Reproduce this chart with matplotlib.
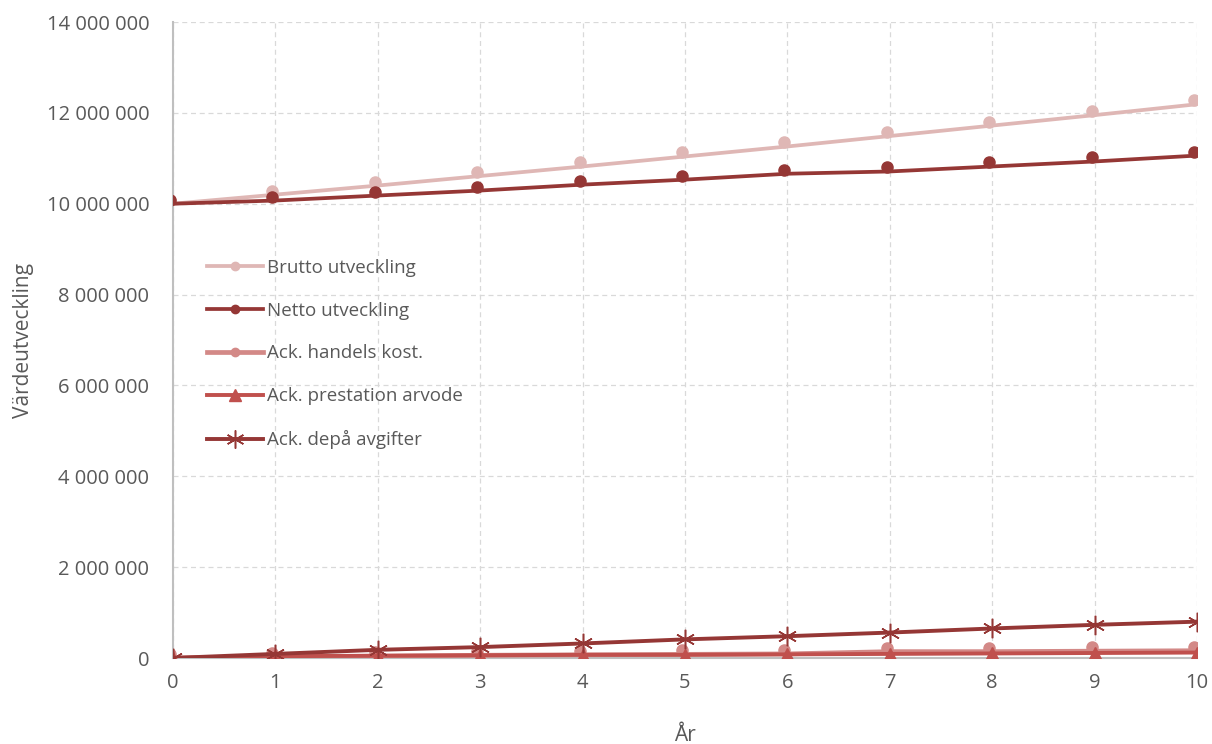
import numpy as np
import matplotlib.pyplot as plt
from matplotlib.lines import Line2D
from matplotlib.ticker import FuncFormatter, MultipleLocator
from matplotlib.transforms import offset_copy

plt.rcParams['font.family'] = ['Open Sans', 'DejaVu Sans']

years = np.arange(0, 11)

# values in SEK
brutto = [10.00e6, 10.20e6, 10.40e6, 10.61e6, 10.82e6, 11.04e6, 11.26e6, 11.49e6, 11.72e6, 11.95e6, 12.19e6]
netto = [10.00e6, 10.07e6, 10.18e6, 10.29e6, 10.42e6, 10.53e6, 10.66e6, 10.71e6, 10.82e6, 10.93e6, 11.06e6]
handels = [0, 0.02e6, 0.04e6, 0.06e6, 0.07e6, 0.08e6, 0.09e6, 0.14e6, 0.14e6, 0.15e6, 0.16e6]
prestation = [0, 0.04e6, 0.05e6, 0.06e6, 0.07e6, 0.07e6, 0.08e6, 0.09e6, 0.10e6, 0.11e6, 0.12e6]
depa = [0, 0.09e6, 0.18e6, 0.24e6, 0.32e6, 0.41e6, 0.48e6, 0.56e6, 0.65e6, 0.73e6, 0.80e6]

labels = ["Brutto utveckling", "Netto utveckling", "Ack. handels kost.",
          "Ack. prestation arvode", "Ack. depå avgifter"]

C_BRUTTO = "#dfb7b5"
C_NETTO = "#953735"
C_HANDELS = "#d38987"
C_PREST = "#c0504d"
C_DEPA = "#953735"
TXT = "#595959"

fig = plt.figure(figsize=(12.12, 7.44), dpi=100)
ax = fig.add_axes([173 / 1212, 86 / 744, 1024 / 1212, 636 / 744])

# circle markers sit a few pixels up/left of their line
shifted = offset_copy(ax.transData, fig=fig, x=-3, y=4, units='dots')

series = [
    (brutto, C_BRUTTO, 'o', True, 2.7),
    (netto, C_NETTO, 'o', True, 2.7),
    (handels, C_HANDELS, 'o', True, 3.4),
    (prestation, C_PREST, '^', False, 2.8),
    (depa, C_DEPA, (6, 2, 0), False, 2.8),
]

handles = []
for i, (vals, col, mk, shift, lw) in enumerate(series):
    ax.plot(years, vals, color=col, lw=lw, zorder=3 + i, solid_capstyle='round')
    if mk == 'o':
        ms, mew = 8, 1.0
    elif mk == '^':
        ms, mew = 9, 1.0
    else:
        ms, mew = 14, 1.1
    ax.plot(years, vals, linestyle='none', marker=mk, ms=ms, color=col,
            markeredgewidth=mew, zorder=3 + i,
            transform=shifted if shift else ax.transData)
    handles.append(Line2D([], [], color=col, lw=lw, marker=mk,
                          ms=6 if mk == 'o' else (9 if mk == '^' else 13),
                          markeredgewidth=mew))

ax.set_xlim(0, 10)
ax.set_ylim(0, 14e6)
ax.xaxis.set_major_locator(MultipleLocator(1))
ax.yaxis.set_major_locator(MultipleLocator(2e6))
ax.yaxis.set_major_formatter(FuncFormatter(lambda v, p: f"{int(v):,}".replace(",", " ")))

ax.grid(True, color="#d9d9d9", linestyle=(0, (4, 3)), linewidth=0.9)
ax.set_axisbelow(True)
for s in ("top", "right"):
    ax.spines[s].set_visible(False)
for s in ("left", "bottom"):
    ax.spines[s].set_color("#bfbfbf")
    ax.spines[s].set_linewidth(1.5)

ax.tick_params(axis='both', length=0, labelsize=14.5, labelcolor=TXT)
ax.tick_params(axis='y', pad=17)
ax.tick_params(axis='x', pad=11)

ax.set_xlabel("År", fontsize=15, color=TXT, labelpad=23)
ax.set_ylabel("Värdeutveckling", fontsize=15, color=TXT, labelpad=9)

ax.legend(handles, labels, loc='upper left', bbox_to_anchor=(0.033, 0.628),
          frameon=False, fontsize=13.5, labelcolor=TXT, handlelength=3.0,
          handletextpad=0.2, labelspacing=1.33, borderpad=0, borderaxespad=0)

fig.savefig("out.png", dpi=100)
